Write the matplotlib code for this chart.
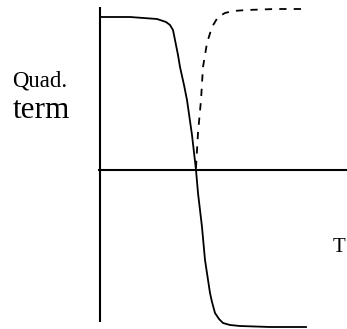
import numpy as np
import matplotlib.pyplot as plt

# Values (x = T, y = quadrature term, arbitrary units)
t_solid = [101, 130, 157, 166, 170, 173, 175, 178, 180, 184, 187, 192, 196,
           198, 202, 205, 210, 212, 215, 219, 223, 230, 240, 270, 306]
q_solid = [153, 153, 151, 148, 145, 140, 130, 115, 103, 85, 70, 35, 0,
           -23, -57, -90, -123, -132, -143, -149, -153, -155, -156, -157, -157]

t_dash = [196, 197, 198, 201, 203, 207, 212, 218, 225, 233, 247, 275, 305]
q_dash = [2, 20, 37, 70, 103, 127, 143, 153, 157, 159, 160, 161, 161]

plt.rcParams['font.family'] = ['Liberation Serif', 'DejaVu Serif']

fig = plt.figure(figsize=(3.47, 3.29), dpi=100)
ax = fig.add_axes([0, 0, 1, 1])
ax.set_xlim(0, 347)
ax.set_ylim(-159, 170)
ax.axis('off')

# axes drawn by hand, like the sketch
ax.plot([100, 100], [163, -152], color='black', linewidth=1.5, solid_capstyle='butt')
ax.plot([98, 347], [0, 0], color='black', linewidth=1.5, solid_capstyle='butt')

ax.plot(t_solid, q_solid, color='black', linewidth=1.3, solid_joinstyle='round')
ax.plot(t_dash, q_dash, color='black', linewidth=1.3, linestyle=(0, (4, 4)))

ax.text(12, 83, 'Quad.', fontsize=16.4, va='baseline', ha='left')
ax.text(13, 52, 'term', fontsize=22.5, va='baseline', ha='left')
ax.text(333, -82, 'T', fontsize=15, va='baseline', ha='left')

plt.savefig('out.png', dpi=100)
